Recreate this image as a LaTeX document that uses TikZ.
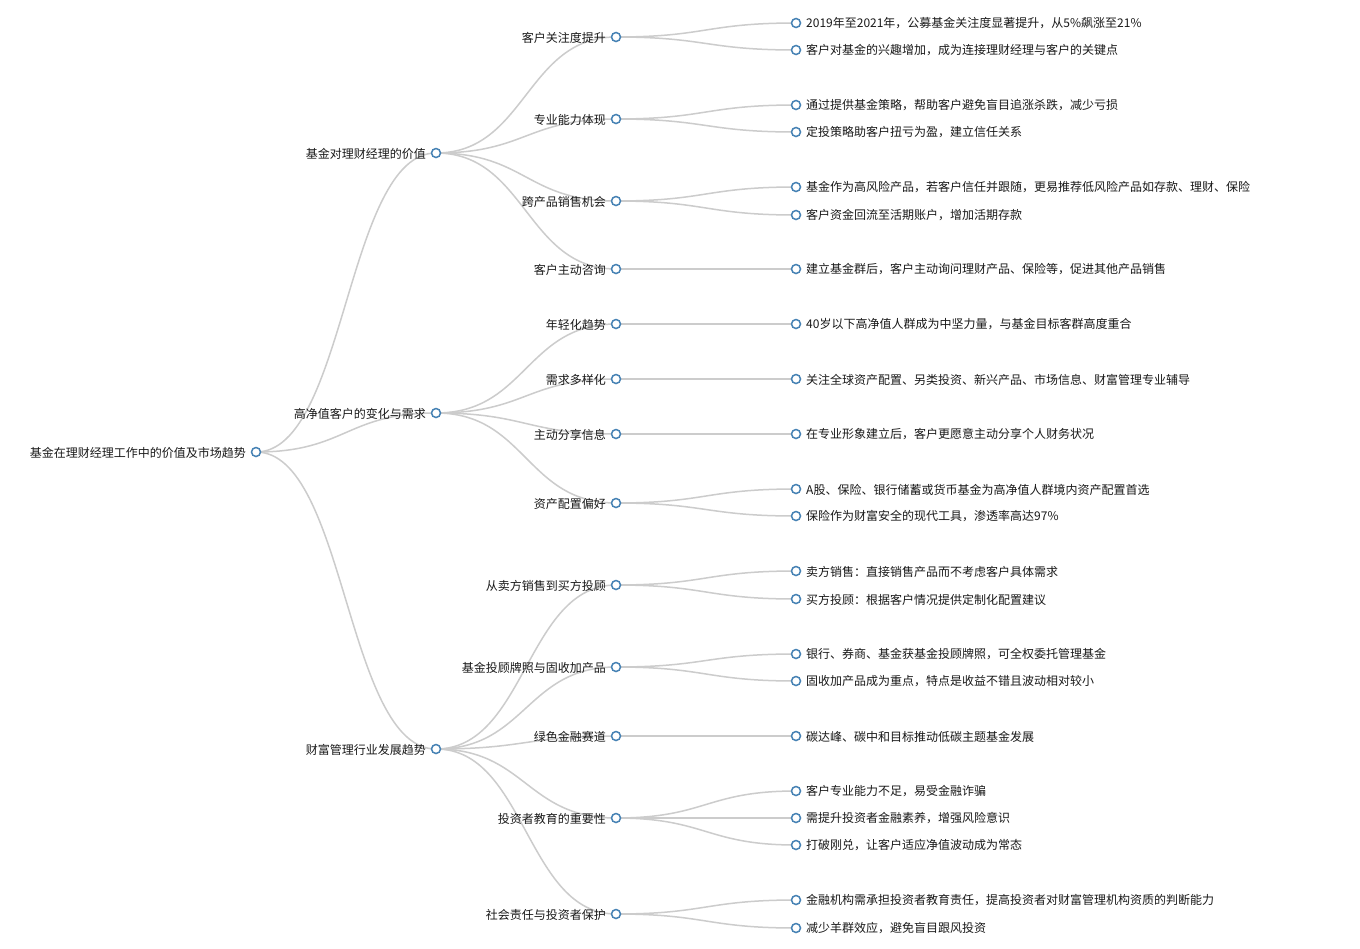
\documentclass[tikz,border=0pt]{standalone}
\usepackage{fontspec}
\setmainfont{Noto Sans CJK SC}
\usetikzlibrary{calc}
\pgfdeclarelayer{back}
\pgfdeclarelayer{bg}
\pgfsetlayers{back,bg,main}
\definecolor{linkgray}{HTML}{CCCCCC}
\definecolor{steel}{HTML}{4682B4}
\tikzset{
  dot/.style={circle,draw=steel,fill=white,line width=1.5pt,minimum size=9pt,inner sep=0pt},
  txt/.style={inner sep=0pt,font=\fontsize{12}{14}\selectfont,text=black!90},
  link/.style={draw=linkgray,line width=1.5pt}
}
\newcommand\inode[4]{\node[dot] (#1) at (#2,#3) {};\node[txt,anchor=east] (#1t) at (#2-10,#3+0.5) {#4};}
\newcommand\lnode[4]{\node[dot] (#1) at (#2,#3) {};\node[txt,anchor=west] (#1t) at (#2+10,#3+0.5) {#4};}
\newcommand\lnk[2]{\begin{pgfonlayer}{bg}\draw[link] let \p1=(#1.center), \p2=(#2.center) in (\p1) .. controls ({(\x1+\x2)/2},\y1) and ({(\x1+\x2)/2},\y2) .. (\p2);\end{pgfonlayer}}
\begin{document}
\begin{tikzpicture}[x=1pt,y=-1pt]
\useasboundingbox (0,0) rectangle (1360,948);
\begin{pgfonlayer}{back}
\fill[white] (0,0) rectangle (1360,948);
\end{pgfonlayer}
% root and level 1
\inode{r}{256}{452}{基金在理财经理工作中的价值及市场趋势}
\inode{a}{436}{153}{基金对理财经理的价值}
\inode{b}{436}{413}{高净值客户的变化与需求}
\inode{c}{436}{749}{财富管理行业发展趋势}
% level 2
\inode{a1}{616}{37}{客户关注度提升}
\inode{a2}{616}{119}{专业能力体现}
\inode{a3}{616}{201}{跨产品销售机会}
\inode{a4}{616}{269}{客户主动咨询}
\inode{b1}{616}{324}{年轻化趋势}
\inode{b2}{616}{379}{需求多样化}
\inode{b3}{616}{434}{主动分享信息}
\inode{b4}{616}{503}{资产配置偏好}
\inode{c1}{616}{585}{从卖方销售到买方投顾}
\inode{c2}{616}{667}{基金投顾牌照与固收加产品}
\inode{c3}{616}{736}{绿色金融赛道}
\inode{c4}{616}{818}{投资者教育的重要性}
\inode{c5}{616}{914}{社会责任与投资者保护}
% leaves
\lnode{a11}{796}{23}{2019年至2021年，公募基金关注度显著提升，从5\%飙涨至21\%}
\lnode{a12}{796}{50}{客户对基金的兴趣增加，成为连接理财经理与客户的关键点}
\lnode{a21}{796}{105}{通过提供基金策略，帮助客户避免盲目追涨杀跌，减少亏损}
\lnode{a22}{796}{132}{定投策略助客户扭亏为盈，建立信任关系}
\lnode{a31}{796}{187}{基金作为高风险产品，若客户信任并跟随，更易推荐低风险产品如存款、理财、保险}
\lnode{a32}{796}{215}{客户资金回流至活期账户，增加活期存款}
\lnode{a41}{796}{269}{建立基金群后，客户主动询问理财产品、保险等，促进其他产品销售}
\lnode{b11}{796}{324}{40岁以下高净值人群成为中坚力量，与基金目标客群高度重合}
\lnode{b21}{796}{379}{关注全球资产配置、另类投资、新兴产品、市场信息、财富管理专业辅导}
\lnode{b31}{796}{434}{在专业形象建立后，客户更愿意主动分享个人财务状况}
\lnode{b41}{796}{489}{A股、保险、银行储蓄或货币基金为高净值人群境内资产配置首选}
\lnode{b42}{796}{516}{保险作为财富安全的现代工具，渗透率高达97\%}
\lnode{c11}{796}{571}{卖方销售：直接销售产品而不考虑客户具体需求}
\lnode{c12}{796}{599}{买方投顾：根据客户情况提供定制化配置建议}
\lnode{c21}{796}{654}{银行、券商、基金获基金投顾牌照，可全权委托管理基金}
\lnode{c22}{796}{681}{固收加产品成为重点，特点是收益不错且波动相对较小}
\lnode{c31}{796}{736}{碳达峰、碳中和目标推动低碳主题基金发展}
\lnode{c41}{796}{791}{客户专业能力不足，易受金融诈骗}
\lnode{c42}{796}{818}{需提升投资者金融素养，增强风险意识}
\lnode{c43}{796}{845}{打破刚兑，让客户适应净值波动成为常态}
\lnode{c51}{796}{900}{金融机构需承担投资者教育责任，提高投资者对财富管理机构资质的判断能力}
\lnode{c52}{796}{928}{减少羊群效应，避免盲目跟风投资}
% links
\lnk{r}{a}\lnk{r}{b}\lnk{r}{c}
\lnk{a}{a1}\lnk{a}{a2}\lnk{a}{a3}\lnk{a}{a4}
\lnk{b}{b1}\lnk{b}{b2}\lnk{b}{b3}\lnk{b}{b4}
\lnk{c}{c1}\lnk{c}{c2}\lnk{c}{c3}\lnk{c}{c4}\lnk{c}{c5}
\lnk{a1}{a11}\lnk{a1}{a12}
\lnk{a2}{a21}\lnk{a2}{a22}
\lnk{a3}{a31}\lnk{a3}{a32}
\lnk{a4}{a41}
\lnk{b1}{b11}\lnk{b2}{b21}\lnk{b3}{b31}
\lnk{b4}{b41}\lnk{b4}{b42}
\lnk{c1}{c11}\lnk{c1}{c12}
\lnk{c2}{c21}\lnk{c2}{c22}
\lnk{c3}{c31}
\lnk{c4}{c41}\lnk{c4}{c42}\lnk{c4}{c43}
\lnk{c5}{c51}\lnk{c5}{c52}
\end{tikzpicture}
\end{document}
